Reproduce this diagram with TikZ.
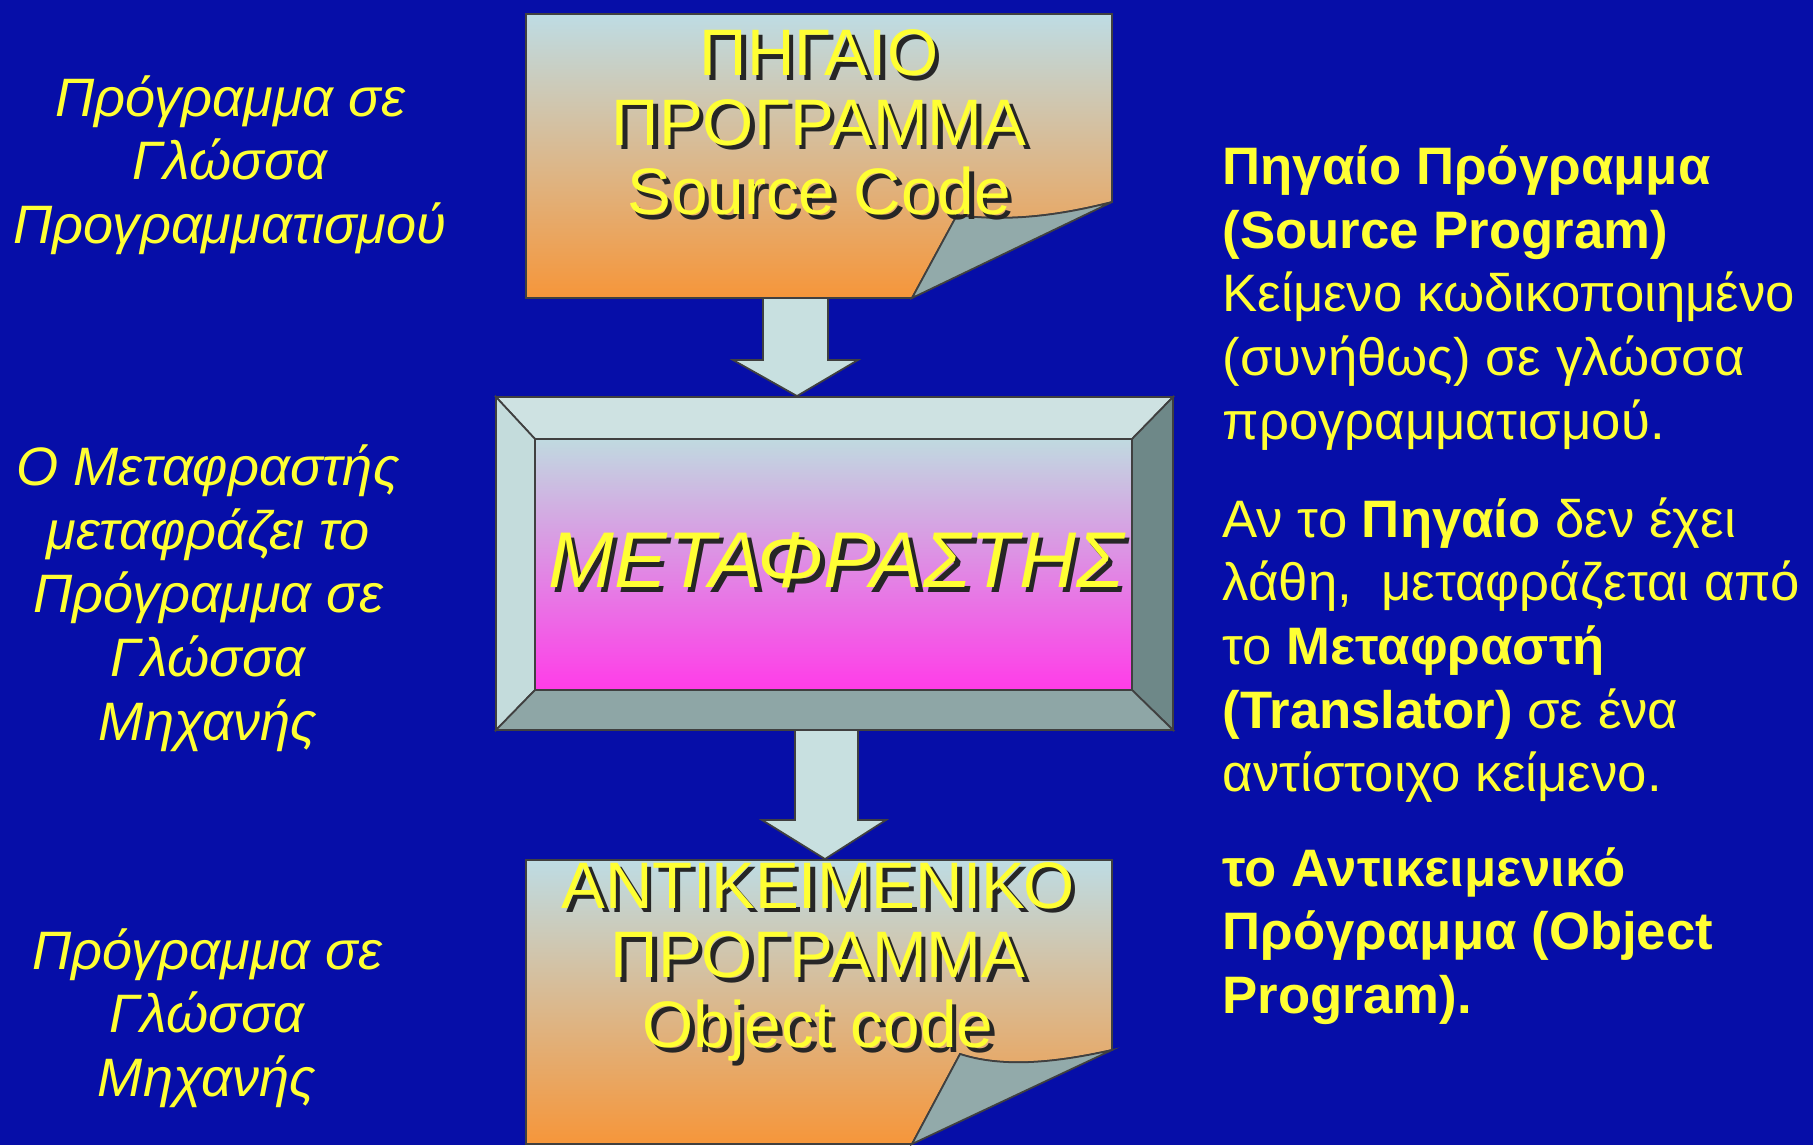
\documentclass[tikz,border=0pt]{standalone}
\usepackage{fontspec}
\setmainfont{Liberation Sans}
\usepackage{xcolor}
\usetikzlibrary{calc}

\definecolor{bgblue}{RGB}{6,14,168}
\definecolor{txtyellow}{RGB}{255,255,51}
\definecolor{pagetop}{RGB}{190,220,228}
\definecolor{pagemid}{RGB}{230,186,156}
\definecolor{pagebot}{RGB}{246,150,58}
\definecolor{foldgray}{RGB}{146,170,170}
\definecolor{arrowfill}{RGB}{200,224,224}
\definecolor{bevtop}{RGB}{206,226,226}
\definecolor{bevleft}{RGB}{196,220,220}
\definecolor{bevright}{RGB}{110,136,136}
\definecolor{bevbottom}{RGB}{142,166,166}
\definecolor{screentop}{RGB}{192,218,224}
\definecolor{screenmid}{RGB}{214,172,226}
\definecolor{screenbot}{RGB}{255,60,232}

\newcommand{\shadowed}[1]{\makebox[0pt][l]{\kern1.3pt\raisebox{-1.3pt}{\color{black!85}#1}}#1}

\tikzset{
  outline/.style={draw=black!75,line width=0.5pt},
  boxtext/.style={text=txtyellow,align=center,inner sep=0pt,font=\fontsize{18.7}{19.8}\selectfont},
  screentext/.style={text=txtyellow,inner sep=0pt,font=\fontsize{22.5}{26}\selectfont\itshape},
  sidenote/.style={text=txtyellow,align=center,inner sep=0pt,font=\fontsize{15.4}{18.1}\selectfont\itshape},
  infotext/.style={text=txtyellow,align=left,inner sep=0pt,anchor=west,font=\fontsize{15}{18.1}\selectfont}
}

\begin{document}
\begin{tikzpicture}[x=1cm,y=-1cm]
	% Background
	\fill[bgblue] (0,0) rectangle (18.13,11.45);
	\useasboundingbox (0,0) rectangle (18.13,11.45);
	% Source page with folded corner
	\shade[top color=pagetop,middle color=pagemid,bottom color=pagebot,outline] (5.26,0.14) -- (11.12,0.14) -- (11.12,2.02) .. controls (10.5,2.18) and (10.0,2.21) .. (9.57,2.15) -- (9.12,2.98) -- (5.26,2.98) -- cycle;
	\fill[foldgray,outline] (9.57,2.15) .. controls (10.0,2.21) and (10.5,2.18) .. (11.12,2.02) -- (9.12,2.98) -- cycle;
	% Arrow to the translator
	\fill[arrowfill,outline] (7.63,2.98) -- (8.28,2.98) -- (8.28,3.60) -- (8.58,3.60) -- (7.97,3.96) -- (7.33,3.60) -- (7.63,3.60) -- cycle;
	% Translator frame
	\fill[bevtop,outline] (4.96,3.97) -- (11.73,3.97) -- (11.32,4.39) -- (5.35,4.39) -- cycle;
	\fill[bevleft,outline] (4.96,3.97) -- (5.35,4.39) -- (5.35,6.90) -- (4.96,7.30) -- cycle;
	\fill[bevright,outline] (11.73,3.97) -- (11.73,7.30) -- (11.32,6.90) -- (11.32,4.39) -- cycle;
	\fill[bevbottom,outline] (4.96,7.30) -- (5.35,6.90) -- (11.32,6.90) -- (11.73,7.30) -- cycle;
	\shade[top color=screentop,middle color=screenmid,bottom color=screenbot,outline] (5.35,4.39) rectangle (11.32,6.90);
	% Arrow to the object page
	\fill[arrowfill,outline] (7.95,7.30) -- (8.58,7.30) -- (8.58,8.20) -- (8.86,8.20) -- (8.25,8.59) -- (7.62,8.20) -- (7.95,8.20) -- cycle;
	% Object page with folded corner
	\begin{scope}[shift={(0,8.46)}]
	\shade[top color=pagetop,middle color=pagemid,bottom color=pagebot,outline] (5.26,0.14) -- (11.12,0.14) -- (11.12,2.04) .. controls (10.5,2.18) and (10.0,2.21) .. (9.60,2.08) -- (9.12,2.98) -- (5.26,2.98) -- cycle;
	\fill[foldgray,outline] (9.60,2.08) .. controls (10.0,2.21) and (10.5,2.18) .. (11.12,2.04) -- (9.12,2.98) -- cycle;
	\end{scope}
	% Texts in the shapes
	\node[boxtext] (src) at (8.19,1.25) {\shadowed{ΠΗΓΑΙΟ}\\\shadowed{ΠΡΟΓΡΑΜΜΑ}\\\shadowed{Source Code}};
	\node[screentext] (trans) at (8.36,5.63) {\shadowed{ΜΕΤΑΦΡΑΣΤΗΣ}};
	\node[boxtext] (obj) at (8.18,9.64) {\shadowed{ΑΝΤΙΚΕΙΜΕΝΙΚΟ}\\\shadowed{ΠΡΟΓΡΑΜΜΑ}\\\shadowed{Object code}};
	% Left notes
	\node[sidenote] (notesrc) at (2.30,1.65) {Πρόγραμμα σε\\Γλώσσα\\Προγραμματισμού};
	\node[sidenote] (notetrans) at (2.08,5.98) {Ο Μεταφραστής\\μεταφράζει το\\Πρόγραμμα σε\\Γλώσσα\\Μηχανής};
	\node[sidenote] (noteobj) at (2.07,10.18) {Πρόγραμμα σε\\Γλώσσα\\Μηχανής};
	% Right explanations
	\node[infotext] (infosrc) at (12.22,2.98) {\textbf{Πηγαίο Πρόγραμμα}\\\textbf{(Source Program)}\\Κείμενο κωδικοποιημένο\\(συνήθως) σε γλώσσα\\προγραμματισμού.};
	\node[infotext] (infotrans) at (12.22,6.50) {Αν το \textbf{Πηγαίο} δεν έχει\\λάθη,\ \ μεταφράζεται από\\το \textbf{Μεταφραστή}\\\textbf{(Translator)} σε ένα\\αντίστοιχο κείμενο.};
	\node[infotext] (infoobj) at (12.22,9.36) {\textbf{το Αντικειμενικό}\\\textbf{Πρόγραμμα (Object}\\\textbf{Program).}};
\end{tikzpicture}
\end{document}
